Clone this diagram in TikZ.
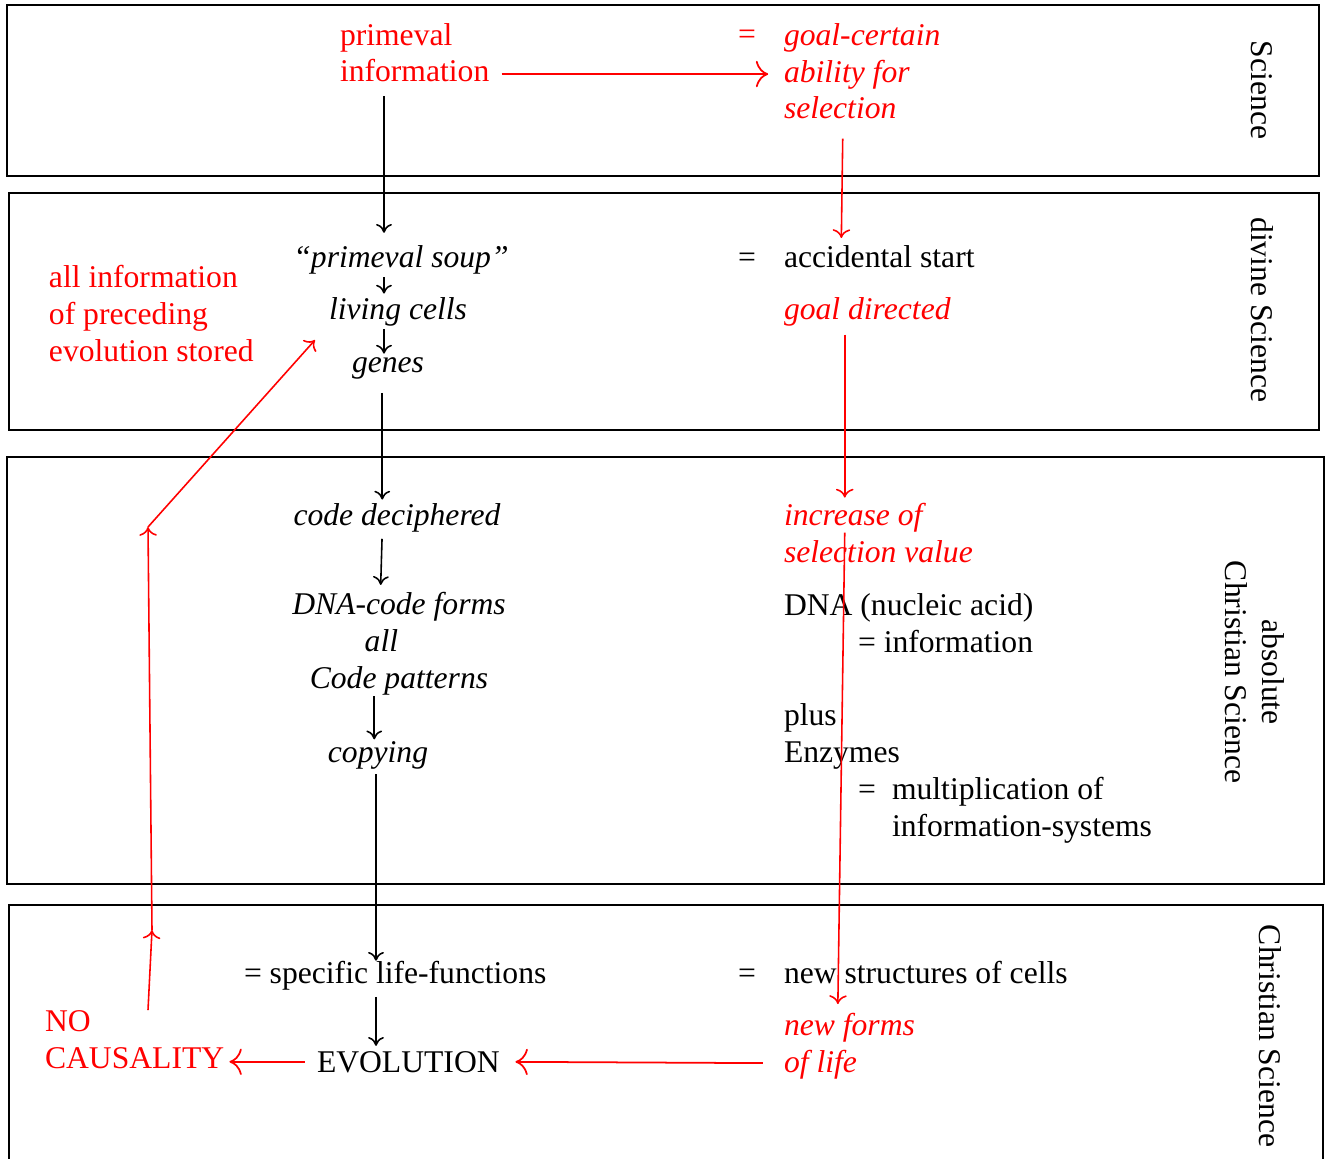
\documentclass[tikz,border=0pt]{standalone}
\usepackage{fontspec}
\setmainfont{Liberation Serif}
\usetikzlibrary{arrows.meta,positioning}
\newcommand{\sz}{\fontsize{18pt}{21pt}\selectfont}

\begin{document}
\begin{tikzpicture}[x=0.02cm, y=-0.02cm,
  every node/.style={inner sep=0pt, outer sep=0pt, font=\sz},
  band/.style={draw, line width=1.1pt},
  it/.style={font=\sz\itshape},
  redtxt/.style={text=red},
  side/.style={rotate=-90, align=center},
  blk/.style={line width=0.9pt, -{To[length=5pt,width=9pt]}},
  rd/.style={red, line width=0.9pt, -{To[length=5pt,width=10pt]}},
  rdwide/.style={red, line width=1pt, -{To[length=7pt,width=15pt]}}]
  \useasboundingbox (0,0) rectangle (1329,1159);

  % bands
  \draw[band] (7,5) rectangle (1319,176);
  \draw[band] (9,193) rectangle (1319,430);
  \draw[band] (7,457) rectangle (1324,884);
  \draw[band] (9,1159) |- (1323,905) -- (1323,1159);

  \node[side] (sci) at (1262,90) {Science};
  \node[side] (divsci) at (1262,310) {divine Science};
  \node[side] (abssci) at (1255,672) {absolute\\Christian Science};
  \node[side] (chrsci) at (1270,1036) {Christian Science};

  % left column (multi-line nodes sit on their last line)
  \node[redtxt, align=left, anchor=base west] (info) at (340,82) {primeval\\information};
  \node[it, anchor=base] (soup) at (401,267) {“primeval soup”};
  \node[it, anchor=base] (cells) at (398,319) {living cells};
  \node[it, anchor=base] (genes) at (388,372) {genes};
  \node[redtxt, align=left, anchor=base west] (allinfo) at (49,361) {all information\\of preceding\\evolution stored};
  \node[it, anchor=base] (code) at (397,525) {code deciphered};
  \node[it, align=center, anchor=base] (forms) at (399,688) {DNA-code forms\\all\kern20pt\\Code patterns};
  \node[it, anchor=base] (copy) at (378,762) {copying};
  \node[anchor=base west] (specific) at (244,983) {= specific life-functions};
  \node[anchor=base west] (evol) at (317,1072) {EVOLUTION};
  \node[redtxt, align=left, anchor=base west] (nocaus) at (45,1068) {NO\\CAUSALITY};

  % right column
  \node[redtxt, anchor=base west] (eqa) at (738,45) {=};
  \node[it, redtxt, align=left, anchor=base west] (goal) at (784,119) {goal-certain\\ability for\\selection};
  \node[anchor=base west] (eqb) at (738,267) {=};
  \node[anchor=base west] (accid) at (784,267) {accidental start};
  \node[it, redtxt, anchor=base west] (goaldir) at (784,319) {goal directed};
  \node[it, redtxt, align=left, anchor=base west] (incr) at (784,562) {increase of\\selection value};
  \node[anchor=base west] (dna) at (784,615) {DNA (nucleic acid)};
  \node[anchor=base west] (dnainfo) at (858,652) {= information};
  \node[align=left, anchor=base west] (plus) at (784,762) {plus\\Enzymes};
  \node[anchor=base west] (eqc) at (858,799) {=};
  \node[align=left, anchor=base west] (mult) at (892,836) {multiplication of\\information-systems};
  \node[anchor=base west] (eqd) at (738,983) {=};
  \node[anchor=base west] (newstruct) at (784,983) {new structures of cells};
  \node[it, redtxt, align=left, anchor=base west] (newforms) at (784,1072) {new forms\\of life};

  \coordinate (spinea) at (384,0);
  \coordinate (spineb) at (376,0);
  \coordinate (redcol) at (843,0);
  \coordinate (bend1) at (152,930);
  \coordinate (bend2) at (148,527);
  \coordinate (tip) at (315,340);

  % black chain
  \draw[blk, shorten <=8pt, shorten >=7pt] (info.south -| spinea) -- (soup.north -| spinea);
  \draw[blk, shorten <=2pt, shorten >=2pt] (soup.south -| spinea) -- (cells.north -| spinea);
  \draw[blk, shorten <=2pt, shorten >=2pt] (cells.south -| spinea) -- (genes.north -| spinea);
  \draw[blk, shorten <=8pt, shorten >=2pt] ([xshift=-1pt]genes.south -| spinea) -- ([xshift=-1pt]code.north -| spinea);
  \draw[blk, shorten <=4pt, shorten >=4pt] ([xshift=-1pt]code.south -| spinea) -- ([xshift=-2pt]forms.north -| spinea);
  \draw[blk, shorten <=1pt, shorten >=1pt] ([xshift=-1pt]forms.south -| spineb) -- ([xshift=-1pt]copy.north -| spineb);
  \draw[blk, shorten <=3pt] (copy.south -| spineb) -- (specific.north -| spineb);
  \draw[blk, shorten <=4pt, shorten >=3pt] (specific.south -| spineb) -- (evol.north -| spineb);

  % red connectors
  \draw[rdwide, shorten <=7pt, shorten >=9pt] ([yshift=4.5pt]info.base east) -- ([yshift=4.5pt]info.base east -| goal.west);
  \draw[rd, shorten <=11pt, shorten >=4pt] (goal.south -| redcol) -- ([xshift=-1pt]accid.north -| redcol);
  \draw[rd, shorten <=5pt, shorten >=3pt] ([xshift=1pt]goaldir.south -| redcol) -- ([xshift=1pt]incr.north -| redcol);
  \draw[rd, shorten >=5pt] ([xshift=1pt]incr.center -| redcol) -- ([xshift=-3pt]newforms.north -| redcol);
  \draw[rdwide, shorten <=12pt, shorten >=9pt] ([yshift=5pt]newforms.base west) -- (evol.east);
  \draw[rdwide, shorten <=7pt, shorten >=3pt] (evol.west) -- (evol.west -| nocaus.east);
  \draw[rd] (nocaus.north -| bend2) -- (bend1);
  \draw[rd] (bend1) -- (bend2);
  \draw[rd] (bend2) -- (tip);
\end{tikzpicture}
\end{document}
